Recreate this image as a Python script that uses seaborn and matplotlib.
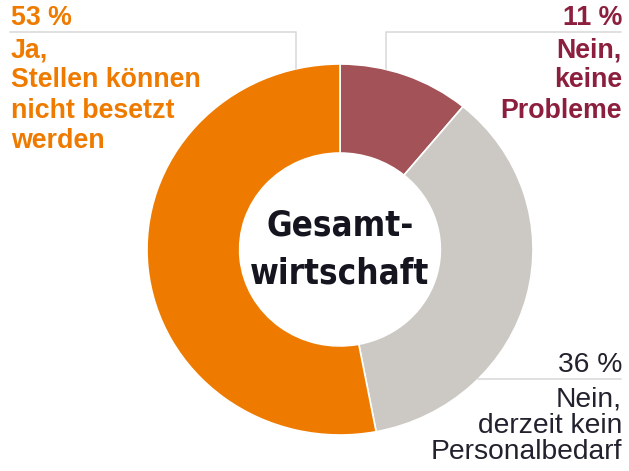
"""Donut: Können offene Stellen besetzt werden? (Gesamtwirtschaft)."""
import matplotlib
matplotlib.use("Agg")
import matplotlib.pyplot as plt
import seaborn as sns

# Daten (im Uhrzeigersinn ab 12 Uhr)
kategorien = ["Nein, keine Probleme",
              "Nein, derzeit kein Personalbedarf",
              "Ja, Stellen können nicht besetzt werden"]
anteile = [11, 36, 53]
label_zeilen = [["Nein,", "keine", "Probleme"],
                ["Nein,", "derzeit kein", "Personalbedarf"],
                ["Ja,", "Stellen können", "nicht besetzt", "werden"]]
farben = ["#A35257", "#CCC9C5", "#EE7B00"]
text_farben = ["#8C1F3D", "#22222E", "#EE7B00"]
zentrum = ["Gesamt-", "wirtschaft"]

sns.set_theme(style="white")
plt.rcParams["font.family"] = ["Liberation Sans", "DejaVu Sans"]

W, H = 629, 471
fig = plt.figure(figsize=(W / 100, H / 100), dpi=100)

# Donut (leicht in die Breite gezogen wie im Original)
ax = fig.add_axes([147 / W, 1 - 435 / H, 386 / W, 371 / H])
ax.pie(anteile, colors=farben, startangle=90, counterclock=False, radius=1,
       wedgeprops=dict(width=0.48, edgecolor="white", linewidth=1.2))
ax.set_aspect("auto")
ax.set_xlim(-1, 1)
ax.set_ylim(-1, 1)
ax.axis("off")

# Overlay in Pixelkoordinaten für Rahmenlinien und Beschriftungen
ov = fig.add_axes([0, 0, 1, 1], zorder=3)
ov.set_xlim(0, W)
ov.set_ylim(H, 0)
ov.axis("off")
ov.patch.set_alpha(0)

grau = "#DADADA"
ov.plot([10, 296, 296], [32, 32, 69], color=grau, lw=1.2)
ov.plot([386, 386, 621], [69, 32, 32], color=grau, lw=1.2)
ov.plot([478, 621], [379, 379], color=grau, lw=1.2)

fs = 19.3
# 53 % links oben
ov.text(11, 25, f"{anteile[2]} %", color=text_farben[2], fontsize=fs,
        fontweight="bold", ha="left", va="baseline")
for i, zeile in enumerate(label_zeilen[2]):
    ov.text(11, 57 + 30.3 * i, zeile, color=text_farben[2], fontsize=fs,
            fontweight="bold", ha="left", va="baseline")

# 11 % rechts oben
ov.text(622, 25, f"{anteile[0]} %", color=text_farben[0], fontsize=fs,
        fontweight="bold", ha="right", va="baseline")
for i, zeile in enumerate(label_zeilen[0]):
    ov.text(622, 57 + 30.3 * i, zeile, color=text_farben[0], fontsize=fs,
            fontweight="bold", ha="right", va="baseline")

# 36 % rechts unten
ov.text(622, 372, f"{anteile[1]} %", color=text_farben[1], fontsize=20.3,
        ha="right", va="baseline")
for i, zeile in enumerate(label_zeilen[1]):
    ov.text(622, 407 + 26 * i, zeile, color=text_farben[1], fontsize=20.3,
            ha="right", va="baseline")

# Zentrumstext
for i, zeile in enumerate(zentrum):
    ov.text(340, 235 + 48 * i, zeile, color="#15151F", fontsize=25,
            fontweight="heavy", fontstretch="condensed",
            family=["DejaVu Sans", "Liberation Sans"],
            ha="center", va="baseline")

fig.savefig("out.png", dpi=100)
